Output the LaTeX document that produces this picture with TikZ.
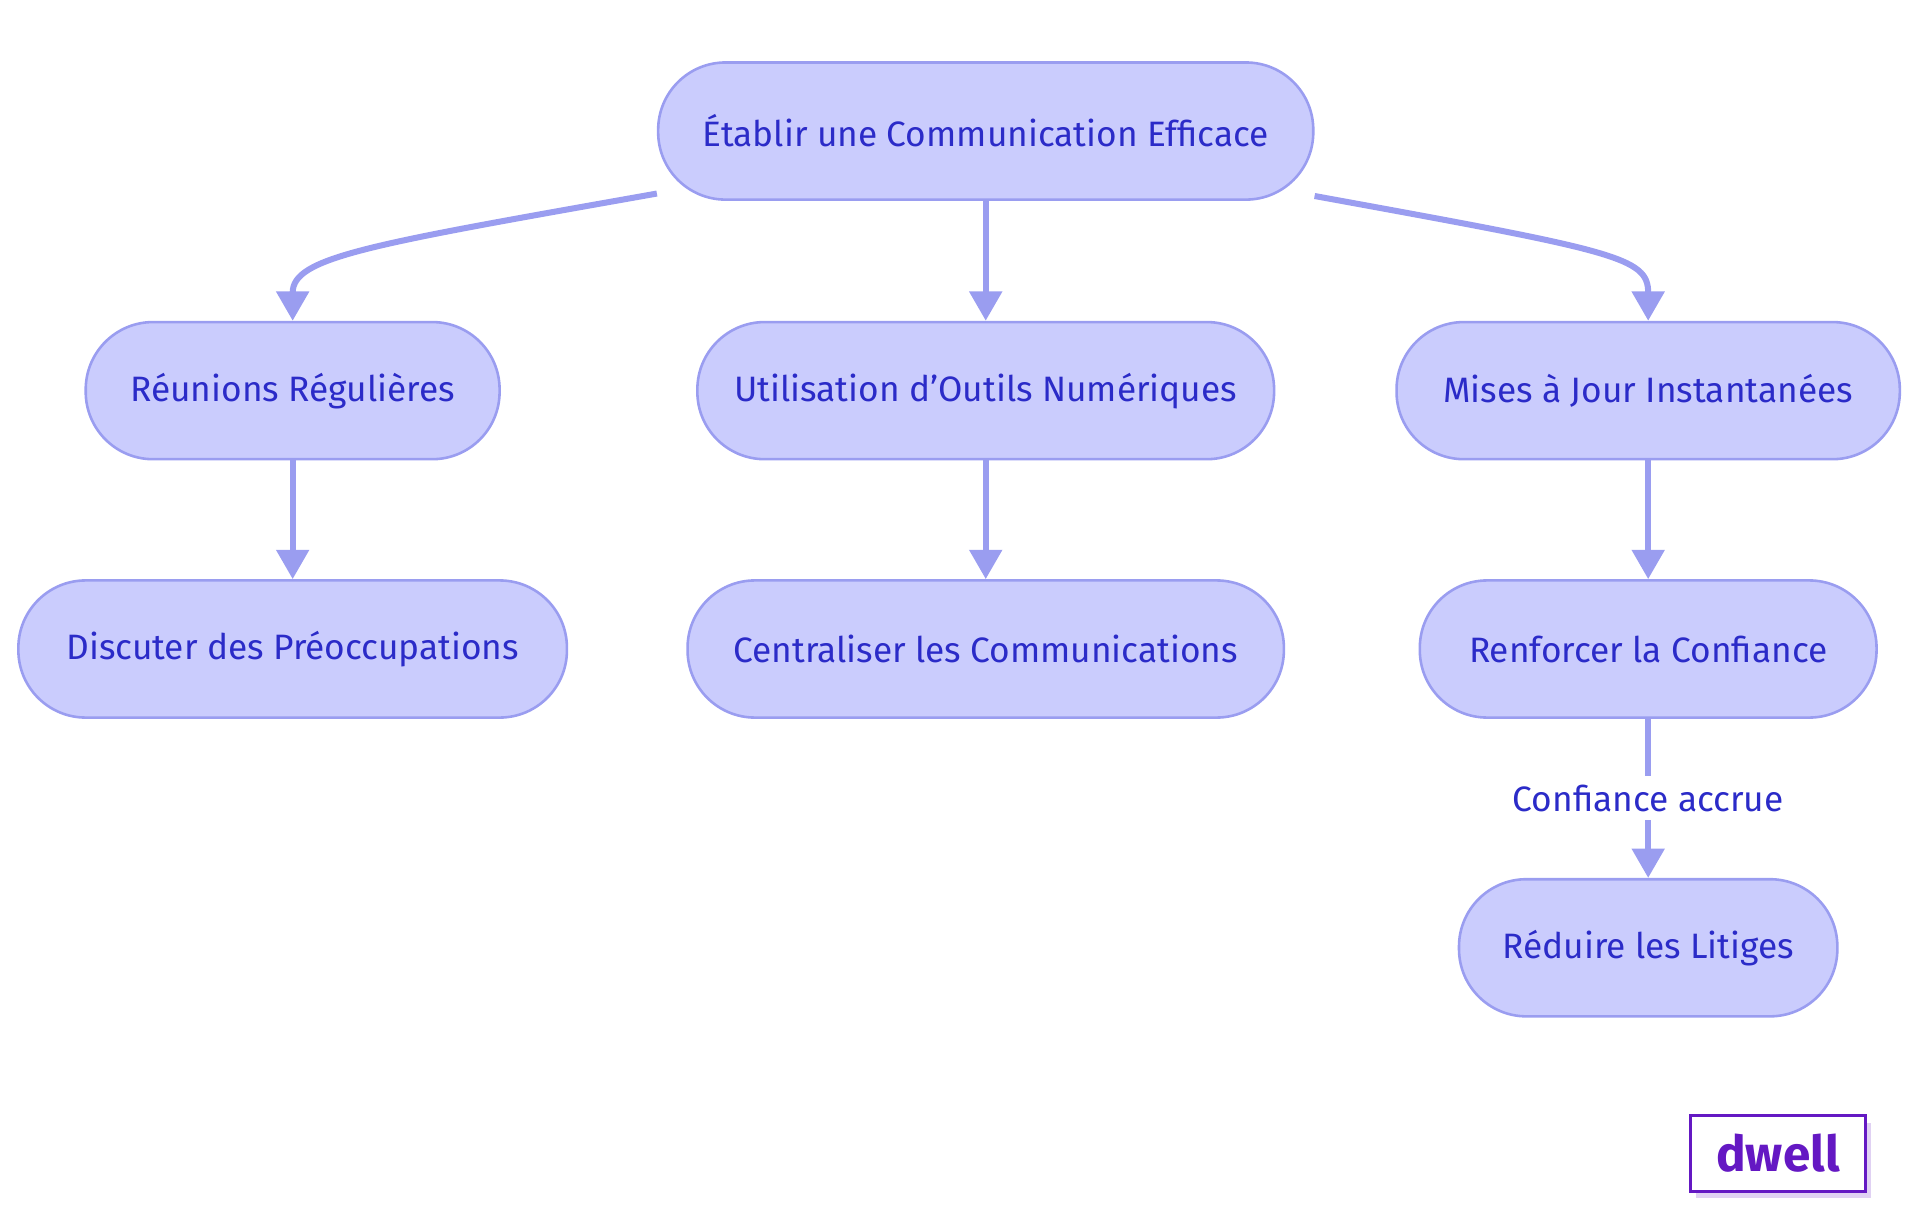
\documentclass[tikz,border=0pt]{standalone}
\usepackage{fontspec}
\setmainfont{Fira Sans}
\usetikzlibrary{arrows.meta,positioning}
\definecolor{boxfill}{HTML}{CACCFD}
\definecolor{boxline}{HTML}{9A9DF0}
\definecolor{boxtext}{HTML}{2B2BC8}
\definecolor{logo}{HTML}{6418C3}
\tikzset{
  box/.style={draw=boxline, fill=boxfill, text=boxtext, rounded corners=0.55cm,
    minimum height=1.12cm, inner xsep=0pt, font=\fontsize{8.2}{10}\selectfont, line width=0.6pt},
  link/.style={draw=boxline, line width=1.4pt, -{Triangle[length=0.24cm,width=0.26cm]}}
}
\begin{document}
\begin{tikzpicture}
\useasboundingbox (0,0) rectangle (15.68,-9.92);
% nodes
\node[box, minimum width=5.35cm] (top) at (8.05,-1.07) {Établir une Communication Efficace};
\node[box, minimum width=3.38cm] (reg) at (2.39,-3.19) {Réunions Régulières};
\node[box, minimum width=4.71cm] (num) at (8.05,-3.19) {Utilisation d'Outils Numériques};
\node[box, minimum width=4.11cm] (maj) at (13.46,-3.19) {Mises à Jour Instantanées};
\node[box, minimum width=4.48cm] (dis) at (2.39,-5.30) {Discuter des Préoccupations};
\node[box, minimum width=4.87cm] (cen) at (8.05,-5.30) {Centraliser les Communications};
\node[box, minimum width=3.73cm] (ren) at (13.46,-5.30) {Renforcer la Confiance};
\node[box, minimum width=3.09cm] (red) at (13.46,-7.74) {Réduire les Litiges};

% connectors
\draw[link] ([yshift=0.06cm]top.south west) .. controls (3.0,-2.0) and (2.39,-2.1) .. (reg.north);
\draw[link] ([yshift=0.04cm]top.south east) .. controls (13.2,-2.05) and (13.46,-2.1) .. (maj.north);
\draw[link] (top) -- (num);
\draw[link] (reg) -- (dis);
\draw[link] (num) -- (cen);
\draw[link] (maj) -- (ren);
\draw[link] (ren) -- node[fill=white, text=boxtext, font=\fontsize{8.2}{10}\selectfont, inner sep=2pt] {Confiance accrue} (red);

% logo
\fill[logo!20] (13.85,-9.17) rectangle (15.28,-9.78);
\node[draw=logo, fill=white, text=logo, line width=0.8pt, minimum width=1.43cm, minimum height=0.62cm,
  font=\bfseries\fontsize{11.5}{13}\selectfont] (dwell) at (14.52,-9.42) {dwell};
\end{tikzpicture}
\end{document}
